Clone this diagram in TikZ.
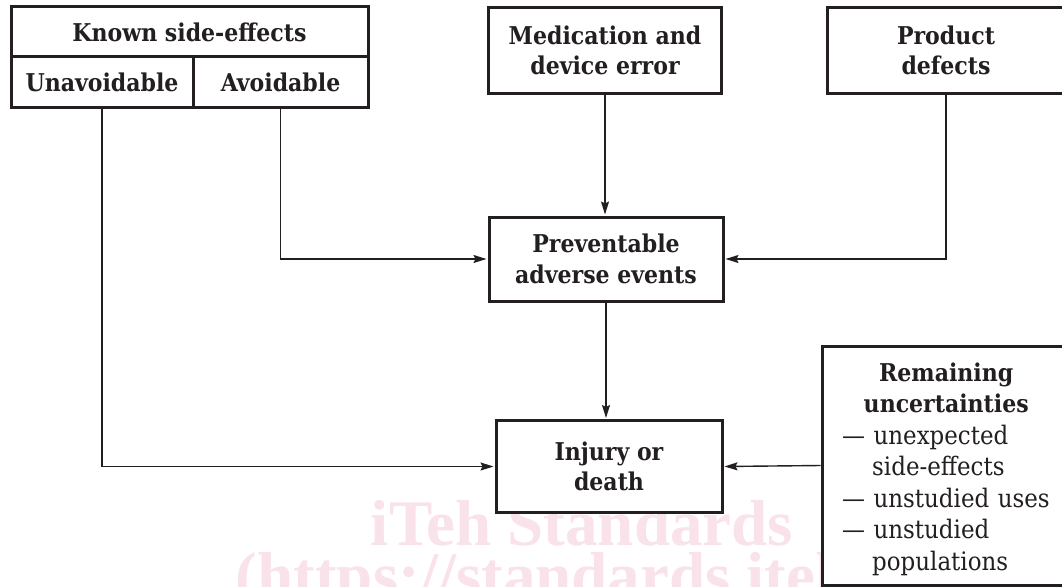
\documentclass[tikz,border=0pt]{standalone}
\usepackage{fontspec}
\setmainfont{DejaVu Serif Condensed}
\newfontfamily\wmfont{Liberation Serif}
\usetikzlibrary{arrows.meta}
\definecolor{ink}{HTML}{231F20}
\definecolor{wm}{HTML}{F9E2E9}
\begin{document}
\begin{tikzpicture}[x=1pt,y=-1pt,
  box/.style={draw=ink, fill=white, line width=3pt, rectangle, inner sep=0pt, align=center, text=ink,
    font=\fontsize{24.5}{30.5}\selectfont\bfseries},
  conn/.style={draw=ink, line width=1.4pt, -{Stealth[length=13pt,width=8pt,inset=2pt]}, shorten >=1pt},
  wmtext/.style={text=wm, inner sep=0pt, anchor=base, font=\wmfont\bfseries\fontsize{65}{65}\selectfont}]
\useasboundingbox (0,0) rectangle (1062,586);
\fill[white] (0,0) rectangle (1062,586);
\clip (0,0) rectangle (1062,586);
% watermark
\node[wmtext] (wm1) at (582,545) {iTeh Standards};
\node[wmtext] (wm2) at (588,597) {(https://standards.iteh.ai)};
% boxes
\node[box, minimum width=357pt, minimum height=50pt] (known) at (189.5,32) {Known side-effects};
\node[box, minimum width=182pt, minimum height=50pt] (unav) at (102,82) {Unavoidable};
\node[box, minimum width=175pt, minimum height=50pt] (avoid) at (280.5,82) {Avoidable};
\node[box, minimum width=233pt, minimum height=85pt] (med) at (605,50.5) {Medication and\\device error};
\node[box, minimum width=238pt, minimum height=85pt] (prod) at (946,50.5) {Product\\defects};
\node[box, minimum width=234pt, minimum height=84pt] (prev) at (606,259) {Preventable\\adverse events};
\node[box, minimum width=226pt, minimum height=92pt] (inj) at (609,466.5) {Injury or\\death};
\node[box, minimum width=250pt, minimum height=239pt] (rem) at (947,465.5) {};
\node[anchor=north west, inner sep=0pt, text width=236pt, align=left, text=ink,
  font=\fontsize{25.5}{31.5}\selectfont] (remtxt) at (828,362.5)
  {\makebox[236pt][c]{\fontsize{24.5}{31.5}\selectfont\bfseries Remaining}\\
   \makebox[236pt][c]{\fontsize{24.5}{31.5}\selectfont\bfseries uncertainties}\\
   \hspace*{14pt}— unexpected\\
   \hspace*{44pt}side-effects\\
   \hspace*{14pt}— unstudied uses\\
   \hspace*{14pt}— unstudied\\
   \hspace*{44pt}populations};
% connectors
\draw[conn] (unav.south) |- (inj.west);
\draw[conn] (avoid.south) |- (prev.west);
\draw[conn] (med.south) -- (med.south |- prev.north);
\draw[conn] (prod.south) |- (prev.east);
\draw[conn] (prev.south) -- (prev.south |- inj.north);
\draw[conn] (rem.west) -- (inj.east);
\end{tikzpicture}
\end{document}
